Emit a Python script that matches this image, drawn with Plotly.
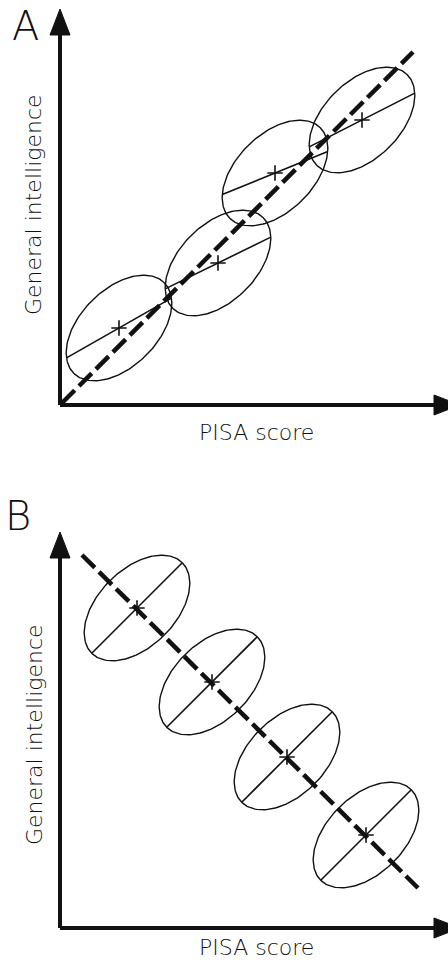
import numpy as np
import plotly.graph_objects as go

# ---------------- data (arbitrary units, origin at axis intersection) ----------------
# Panel A: country clusters, within-country slopes shallower than between-country line
a_center_x = [59, 158, 215, 302]
a_center_y = [77, 142, 232, 285]
a_within_slope = [0.57, 0.49, 0.41, 0.51]
a_between_x = [2, 353]
a_between_y = [2, 353]

# Panel B: within-country positive, between-country negative
b_center_x = [77, 152, 227, 306]
b_center_y = [320, 246, 171, 93]
b_within_slope = [1.0, 1.0, 1.0, 1.0]
b_between_x = [22, 358]
b_between_y = [373, 40]

ellipse_semi_major = 64
ellipse_semi_minor = 38.5
ellipse_angle_deg = 45

axis_x_max = 400
axis_y_max = 396

panel_labels = ["A", "B"]
x_title = "PISA score"
y_title = "General intelligence"

FONT = "DejaVu Sans"
INK = "#111111"

fig = go.Figure()


def ellipse_pts(cx, cy, a, b, ang):
    t = np.linspace(0, 2 * np.pi, 181)
    th = np.radians(ang)
    ex = a * np.cos(t)
    ey = b * np.sin(t)
    return cx + ex * np.cos(th) - ey * np.sin(th), cy + ex * np.sin(th) + ey * np.cos(th)


def chord(cx, cy, slope, a, b, ang):
    d = np.array([1.0, slope]) / np.hypot(1.0, slope)
    th = np.radians(ang)
    u = d[0] * np.cos(th) + d[1] * np.sin(th)
    v = -d[0] * np.sin(th) + d[1] * np.cos(th)
    t = 1.0 / np.sqrt((u / a) ** 2 + (v / b) ** 2)
    return [cx - t * d[0], cx + t * d[0]], [cy - t * d[1], cy + t * d[1]]


def add_panel(cxs, cys, slopes, bx, by, xa, ya):
    for cx, cy, s in zip(cxs, cys, slopes):
        ex, ey = ellipse_pts(cx, cy, ellipse_semi_major, ellipse_semi_minor, ellipse_angle_deg)
        fig.add_trace(go.Scatter(x=ex, y=ey, mode="lines", line=dict(color=INK, width=1.4),
                                 xaxis=xa, yaxis=ya, hoverinfo="skip"))
        lx, ly = chord(cx, cy, s, ellipse_semi_major, ellipse_semi_minor, ellipse_angle_deg)
        fig.add_trace(go.Scatter(x=lx, y=ly, mode="lines", line=dict(color=INK, width=1.6),
                                 xaxis=xa, yaxis=ya, hoverinfo="skip"))
    fig.add_trace(go.Scatter(x=bx, y=by, mode="lines",
                             line=dict(color=INK, width=4.5, dash="18px,6px"),
                             xaxis=xa, yaxis=ya, hoverinfo="skip"))
    fig.add_trace(go.Scatter(x=cxs, y=cys, mode="markers",
                             marker=dict(symbol="cross-thin", size=11,
                                         line=dict(color=INK, width=1.6)),
                             xaxis=xa, yaxis=ya, hoverinfo="skip"))
    # axes with arrowheads
    head_len, head_half = 26, 10
    fig.add_trace(go.Scatter(x=[0, 0, None, 0, axis_x_max - head_len],
                             y=[0, axis_y_max - head_len, None, 0, 0],
                             mode="lines", line=dict(color=INK, width=4),
                             xaxis=xa, yaxis=ya, hoverinfo="skip"))
    fig.add_trace(go.Scatter(x=[-head_half, 0, head_half, -head_half],
                             y=[axis_y_max - head_len, axis_y_max, axis_y_max - head_len, axis_y_max - head_len],
                             mode="lines", fill="toself", fillcolor=INK, line=dict(color=INK, width=1),
                             xaxis=xa, yaxis=ya, hoverinfo="skip"))
    fig.add_trace(go.Scatter(x=[axis_x_max - head_len, axis_x_max, axis_x_max - head_len, axis_x_max - head_len],
                             y=[-head_half, 0, head_half, -head_half],
                             mode="lines", fill="toself", fillcolor=INK, line=dict(color=INK, width=1),
                             xaxis=xa, yaxis=ya, hoverinfo="skip"))


add_panel(a_center_x, a_center_y, a_within_slope, a_between_x, a_between_y, "x", "y")
add_panel(b_center_x, b_center_y, b_within_slope, b_between_x, b_between_y, "x2", "y2")

ann = []
tf = dict(family=FONT, size=22, color=INK, weight=300)
lf = dict(family=FONT, size=40, color=INK, weight=200)
# panel A texts
ann.append(dict(text=panel_labels[0], x=-35, y=379, xref="x", yref="y", showarrow=False, font=lf))
ann.append(dict(text=x_title, x=196, y=-27, xref="x", yref="y", showarrow=False, font=tf))
ann.append(dict(text=y_title, x=-27, y=200, xref="x", yref="y", showarrow=False, font=tf, textangle=-90))
# panel B texts
ann.append(dict(text=panel_labels[1], x=-42, y=412, xref="x2", yref="y2", showarrow=False, font=lf))
ann.append(dict(text=x_title, x=196, y=-19, xref="x2", yref="y2", showarrow=False, font=tf))
ann.append(dict(text=y_title, x=-26, y=193, xref="x2", yref="y2", showarrow=False, font=tf, textangle=-90))

split = 485 / 965
ax_common = dict(visible=False, fixedrange=True)
fig.update_layout(
    width=448, height=965,
    margin=dict(l=0, r=0, t=0, b=0),
    paper_bgcolor="white", plot_bgcolor="white",
    showlegend=False,
    annotations=ann,
    xaxis=dict(domain=[0, 1], range=[-60, 388], anchor="y", **ax_common),
    yaxis=dict(domain=[split, 1], range=[-75, 405], anchor="x", **ax_common),
    xaxis2=dict(domain=[0, 1], range=[-60, 388], anchor="y2", **ax_common),
    yaxis2=dict(domain=[0, split], range=[-37, 448], anchor="x2", **ax_common),
)

fig.write_html("out.html")
